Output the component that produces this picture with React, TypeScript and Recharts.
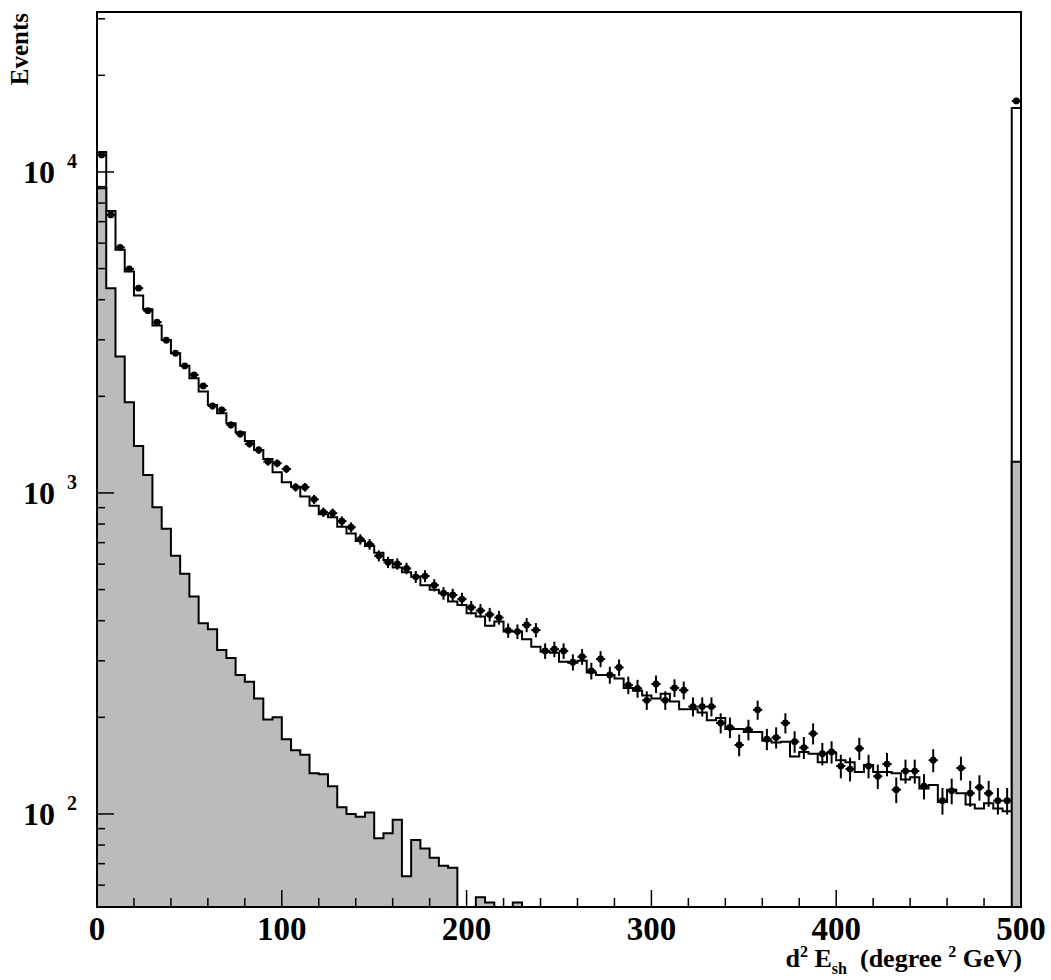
import {
  Area,
  ComposedChart,
  ErrorBar,
  ReferenceArea,
  Scatter,
  XAxis,
  YAxis,
} from "recharts";

// 100 bins of 5 on 0..500, the last one holds the overflow
const BIN_WIDTH = 5;
const binLow = Array.from({ length: 100 }, (_, i) => i * BIN_WIDTH);

// open histogram: total expectation
const mcTotal = [
  11540, 7560, 5720, 4895, 4120, 3736, 3322, 2997, 2724, 2492,
  2277, 2069, 1880, 1771, 1648, 1545, 1452, 1361, 1276, 1160,
  1079, 1045, 975, 912, 859, 840, 785, 748, 708, 683,
  651, 618, 586, 566, 548, 516, 499, 487, 459, 448,
  422, 412, 386, 398, 370, 370, 350, 332, 320, 318,
  298, 296, 300, 276, 271, 271, 264, 247, 242, 234,
  229, 237, 224, 212, 212, 207, 196, 199, 184, 184,
  180, 180, 169, 167, 168, 151, 156, 154, 145, 155,
  147, 145, 135, 142, 135, 135, 134, 128, 130, 120,
  123, 109, 119, 116, 107, 104, 108, 104, 102, 15830,
];

// shaded histogram (0 = empty bin)
const mcShaded = [
  8900, 4345, 2660, 1918, 1400, 1138, 902, 774, 637, 560,
  476, 393, 376, 324, 306, 271, 258, 229, 197, 200,
  171, 158, 153, 134, 133, 122, 105, 100, 98, 101,
  84, 87, 96, 64, 83, 78, 73, 69, 68, 0,
  0, 55, 53, 0, 0, 53, 0, 0, 0, 0,
  0, 0, 0, 0, 0, 0, 0, 0, 0, 0,
  0, 0, 0, 0, 0, 0, 0, 0, 0, 0,
  0, 0, 0, 0, 0, 0, 0, 0, 0, 0,
  0, 0, 0, 0, 0, 0, 0, 0, 0, 0,
  0, 0, 0, 0, 0, 0, 0, 0, 0, 1250,
];

// data points
const observed = [
  11300, 7350, 5825, 4990, 4345, 3698, 3404, 2990, 2724, 2487,
  2333, 2155, 1866, 1815, 1629, 1527, 1422, 1361, 1252, 1237,
  1188, 1042, 1042, 955, 871, 865, 817, 782, 717, 692,
  637, 608, 601, 582, 548, 551, 516, 487, 481, 467,
  440, 430, 418, 409, 373, 370, 388, 374, 322, 326,
  322, 297, 309, 279, 304, 271, 286, 252, 246, 226,
  254, 226, 247, 243, 216, 216, 216, 192, 186, 164,
  183, 211, 171, 173, 192, 168, 161, 178, 154, 156,
  141, 138, 160, 141, 131, 143, 119, 136, 136, 122,
  147, 110, 118, 139, 116, 121, 116, 110, 110, 16640,
];

const xTicks = [
  0, 20, 40, 60, 80, 100, 120, 140, 160, 180, 200, 220, 240, 260, 280,
  300, 320, 340, 360, 380, 400, 420, 440, 460, 480, 500,
];
const yTicks = [
  60, 70, 80, 90, 100, 200, 300, 400, 500, 600, 700, 800, 900,
  1000, 2000, 3000, 4000, 5000, 6000, 7000, 8000, 9000, 10000, 20000, 30000,
];
const yMajor = [100, 1000, 10000];

const Y_MIN = 51.3;
const Y_MAX = 31500;
const EMPTY = 1; // below the axis, clipped away

const FONT = "'Liberation Serif', 'Times New Roman', serif";

const histRows = [
  ...binLow.map((x, i) => ({
    x,
    total: mcTotal[i],
    shaded: mcShaded[i] > 0 ? mcShaded[i] : EMPTY,
  })),
  {
    x: 500,
    total: mcTotal[mcTotal.length - 1],
    shaded: mcShaded[mcShaded.length - 1],
  },
];

const points = observed.map((n, i) => ({
  x: binLow[i] + BIN_WIDTH / 2,
  y: n,
  ey: Math.sqrt(n),
  ex: BIN_WIDTH / 2,
}));

const XTick = (props: any) => {
  const { x, y, payload } = props;
  const major = payload.value % 100 === 0;
  return (
    <g>
      <line x1={x} x2={x} y1={y} y2={y - (major ? 17 : 9)} stroke="#000" strokeWidth={1.5} />
      {major && (
        <text
          x={x}
          y={y + 33}
          textAnchor="middle"
          fontFamily={FONT}
          fontWeight="bold"
          fontSize={33}
          fill="#000"
        >
          {payload.value}
        </text>
      )}
    </g>
  );
};

const YTick = (props: any) => {
  const { x, y, payload } = props;
  const major = yMajor.includes(payload.value);
  const exp = Math.round(Math.log10(payload.value));
  return (
    <g>
      <line x1={x} x2={x + (major ? 17 : 8)} y1={y} y2={y} stroke="#000" strokeWidth={1.5} />
      {major && (
        <g fontFamily={FONT} fontWeight="bold" fill="#000">
          <text x={x - 42} y={y + 11} textAnchor="end" fontSize={32}>
            10
          </text>
          <text x={x - 30} y={y - 4} textAnchor="start" fontSize={20}>
            {exp}
          </text>
        </g>
      )}
    </g>
  );
};

const Dot = (props: any) => {
  const { cx, cy } = props;
  return <circle cx={cx} cy={cy} r={3.4} fill="#000" />;
};

export default function App() {
  return (
    <div style={{ position: "absolute", left: 0, top: 0, width: 1051, height: 980, background: "#fff" }}>
      <ComposedChart
        width={1051}
        height={980}
        data={histRows}
        margin={{ top: 12, right: 30, bottom: 0, left: 0 }}
      >
        <Area
          type="stepAfter"
          dataKey="total"
          stroke="#000"
          strokeWidth={2}
          fill="none"
          dot={false}
          activeDot={false}
          isAnimationActive={false}
        />
        <Area
          type="stepAfter"
          dataKey="shaded"
          stroke="#000"
          strokeWidth={2}
          fill="#bbbbbb"
          fillOpacity={1}
          dot={false}
          activeDot={false}
          isAnimationActive={false}
        />
        <Scatter data={points} dataKey="y" shape={<Dot />} isAnimationActive={false}>
          <ErrorBar dataKey="ey" direction="y" width={0} stroke="#000" strokeWidth={2} />
          <ErrorBar dataKey="ex" direction="x" width={0} stroke="#000" strokeWidth={2} />
        </Scatter>
        <XAxis
          type="number"
          dataKey="x"
          domain={[0, 500]}
          allowDataOverflow
          ticks={xTicks}
          interval={0}
          tick={<XTick />}
          tickLine={false}
          tickSize={0}
          tickMargin={0}
          height={73}
          axisLine={{ stroke: "#000", strokeWidth: 2 }}
        />
        <YAxis
          type="number"
          scale="log"
          domain={[Y_MIN, Y_MAX]}
          allowDataOverflow
          ticks={yTicks}
          interval={0}
          tick={<YTick />}
          tickLine={false}
          tickSize={0}
          tickMargin={0}
          width={97}
          axisLine={{ stroke: "#000", strokeWidth: 2 }}
        />
        <ReferenceArea
          x1={0}
          x2={500}
          y1={Y_MIN}
          y2={Y_MAX}
          fill="none"
          stroke="#000"
          strokeWidth={2}
          ifOverflow="visible"
        />
      </ComposedChart>
      <svg
        width={1051}
        height={980}
        style={{ position: "absolute", left: 0, top: 0, pointerEvents: "none" }}
        fontFamily={FONT}
        fontWeight="bold"
        fill="#000"
      >
        <text x={28} y={13} fontSize={25} textAnchor="end" transform="rotate(-90 28 13)">
          Events
        </text>
        <text x={1022} y={967} fontSize={26} textAnchor="end" style={{ whiteSpace: "pre" }}>
          {"d"}
          <tspan fontSize={16} dy={-10}>{"2"}</tspan>
          <tspan dy={10}>{" E"}</tspan>
          <tspan fontSize={16} dy={7}>{"sh"}</tspan>
          <tspan dy={-7}>{"  (degree "}</tspan>
          <tspan fontSize={16} dy={-10}>{"2"}</tspan>
          <tspan dy={10}>{" GeV)"}</tspan>
        </text>
      </svg>
    </div>
  );
}
